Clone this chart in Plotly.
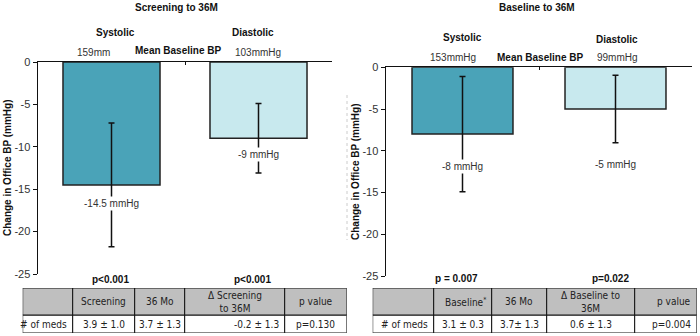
import plotly.graph_objects as go

W, H = 700, 336

# ---------------- data ----------------
categories = ["Systolic", "Diastolic"]
left_title = "Screening to 36M"
right_title = "Baseline to 36M"

left_change = [-14.5, -9.0]
left_err = [7.3, 4.1]
left_labels = ["-14.5 mmHg", "-9 mmHg"]
left_baseline = ["159mm", "103mmHg"]
left_pvals = ["p<0.001", "p<0.001"]

right_change = [-8.0, -5.0]
right_err = [6.9, 4.05]
right_labels = ["-8 mmHg", "-5 mmHg"]
right_baseline = ["153mmHg", "99mmHg"]
right_pvals = ["p = 0.007", "p=0.022"]

yticks = [0, -5, -10, -15, -20, -25]

left_tbl_header = ["", "Screening", "36 Mo", "Δ Screening<br>to 36M", "p value"]
left_tbl_row = ["# of meds", "3.9 ± 1.0", "3.7 ± 1.3", "-0.2 ± 1.3", "p=0.130"]
right_tbl_header = ["", "Baseline<sup>*</sup>", "36 Mo", "Δ Baseline to<br>36M", "p value"]
right_tbl_row = ["# of meds", "3.1 ± 0.3", "3.7± 1.3", "0.6 ± 1.3", "p=0.004"]

# ---------------- styles ----------------
FONT = "Liberation Sans, Arial, sans-serif"
NARROW = "Liberation Sans Narrow, Arial Narrow, DejaVu Sans Condensed, sans-serif"
C_SYS = "#4AA3B8"
C_DIA = "#C8E9EE"
TXT = "#333333"
DARK = "#111111"


def px(x):
    return x / W


def py(y):
    return 1 - y / H


fig = go.Figure()

for trace_y, trace_err, xa, ya in [(left_change, left_err, "x", "y"),
                                   (right_change, right_err, "x2", "y2")]:
    fig.add_trace(go.Bar(
        x=categories, y=trace_y, width=0.66,
        marker=dict(color=[C_SYS, C_DIA], line=dict(color="#222", width=1.5)),
        error_y=dict(type="data", array=trace_err, color=DARK, thickness=1.5, width=3),
        xaxis=xa, yaxis=ya, showlegend=False, hoverinfo="skip"))

xcommon = dict(type="category", side="top", showline=True, linecolor=DARK, linewidth=1.5,
               ticks="inside", ticklen=3, tickcolor=DARK, tickson="boundaries",
               showticklabels=False, showgrid=False, zeroline=False, range=[-0.5, 1.5],
               automargin=False, fixedrange=True)
ycommon = dict(range=[-25, 0], tickvals=yticks, ticktext=[str(v) for v in yticks],
               showline=True, linecolor=DARK, linewidth=1.5,
               ticks="outside", ticklen=4, tickcolor=DARK, showgrid=False, zeroline=False,
               tickfont=dict(family=FONT, size=11, color=TXT), automargin=False, fixedrange=True)
hidden = dict(visible=False, showgrid=False, zeroline=False, automargin=False, fixedrange=True)

# table geometry (layout constants)
ROW_H = [18, 27]          # data row, header row (px)
left_colw = [50, 62, 50, 100, 62]
right_colw = [61, 58, 55, 88, 62]

fig.update_layout(
    width=W, height=H, margin=dict(l=0, r=0, t=0, b=0, pad=0),
    paper_bgcolor="white", plot_bgcolor="white",
    font=dict(family=FONT, color=TXT),
    bargap=0,
    xaxis=dict(domain=[px(38), px(332)], anchor="y", **xcommon),
    yaxis=dict(domain=[py(274), py(62)], anchor="x", **ycommon),
    xaxis2=dict(domain=[px(386), px(692)], anchor="y2", **xcommon),
    yaxis2=dict(domain=[py(276), py(67.3)], anchor="x2", **ycommon),
    xaxis3=dict(domain=[px(22.7), px(346.7)], range=[0, sum(left_colw)], anchor="y3", **hidden),
    yaxis3=dict(domain=[py(333), py(288)], range=[0, sum(ROW_H)], anchor="x3", **hidden),
    xaxis4=dict(domain=[px(372.7), px(696.7)], range=[0, sum(right_colw)], anchor="y4", **hidden),
    yaxis4=dict(domain=[py(333), py(288)], range=[0, sum(ROW_H)], anchor="x4", **hidden),
)

ann = []
shapes = []


def add_text(x, y, text, size=10, bold=False, color=TXT, xref="paper", yref="paper",
             family=FONT, xanchor="center", yanchor="middle", **kw):
    t = f"<b>{text}</b>" if bold else text
    ann.append(dict(x=x, y=y, xref=xref, yref=yref, text=t, showarrow=False,
                    xanchor=xanchor, yanchor=yanchor,
                    font=dict(family=family, size=size, color=color), **kw))


# titles
add_text(px(177), py(7), left_title, bold=True, color=DARK)
add_text(px(537), py(7), right_title, bold=True, color=DARK)

# category headers and baseline values
left_cat_x, right_cat_x = [115, 253], [462, 617]
left_cat_y, right_cat_y = [32, 32], [37, 39]
for i, c in enumerate(categories):
    add_text(px(left_cat_x[i]), py(left_cat_y[i]), c, bold=True, color=DARK)
    add_text(px(right_cat_x[i]), py(right_cat_y[i]), c, bold=True, color=DARK)
    add_text(px([93, 258][i]), py(52), left_baseline[i])
    add_text(px([453, 617][i]), py(57), right_baseline[i])
add_text(px(178), py(50), "Mean Baseline BP", bold=True, color=DARK)
add_text(px(540), py(57), "Mean Baseline BP", bold=True, color=DARK)

# value labels (white box hides the error bar behind)
left_label_y = [-16.7, -10.85]
right_label_y = [-11.9, -11.7]
for i, c in enumerate(categories):
    add_text(c, left_label_y[i], left_labels[i], xref="x", yref="y", bgcolor="white", borderpad=1)
    add_text(c, right_label_y[i], right_labels[i], xref="x2", yref="y2", bgcolor="white", borderpad=1)

# p values
for i in range(2):
    add_text(px([110, 252][i]), py(279), left_pvals[i], bold=True, color=DARK)
    add_text(px([457, 610][i]), py(278), right_pvals[i], bold=True, color=DARK)

# y axis titles
add_text(px(7), py(168), "Change in Office BP (mmHg)", bold=True, color=DARK, textangle=-90)
add_text(px(355), py(172), "Change in Office BP (mmHg)", bold=True, color=DARK, textangle=-90)

# faint divider between panels
shapes.append(dict(type="line", xref="paper", yref="paper", x0=px(347), x1=px(347),
                   y0=py(95), y1=py(240), line=dict(color="#cccccc", width=1, dash="dot")))


def add_table(xa, ya, widths, header, row, halign, calign):
    edges = [0]
    for w in widths:
        edges.append(edges[-1] + w)
    y_edges = [0, ROW_H[0], ROW_H[0] + ROW_H[1]]
    pad = 4
    for r, (vals, aligns) in enumerate([(row, calign), (header, halign)]):
        y0, y1 = y_edges[r], y_edges[r + 1]
        fill = "white" if r == 0 else "#BFBFBF"
        for j, v in enumerate(vals):
            x0, x1 = edges[j], edges[j + 1]
            shapes.append(dict(type="rect", xref=xa, yref=ya, x0=x0, x1=x1, y0=y0, y1=y1,
                               fillcolor=fill, line=dict(color=DARK, width=1), layer="below"))
            if not v:
                continue
            a = aligns[j]
            if a == "center":
                xt = (x0 + x1) / 2
            elif a == "right":
                xt = x1 - pad
            else:
                xt = x0 + pad
            add_text(xt, (y0 + y1) / 2, v, size=10, color="#222", xref=xa, yref=ya,
                     family=NARROW, xanchor=a, align=a)


add_table("x3", "y3", left_colw, left_tbl_header, left_tbl_row,
          ["center"] * 5, ["right", "center", "center", "right", "center"])
add_table("x4", "y4", right_colw, right_tbl_header, right_tbl_row,
          ["right", "right", "center", "center", "right"],
          ["right", "center", "center", "center", "right"])

fig.update_layout(annotations=ann, shapes=shapes)

fig.write_html("out.html",
               config={"displayModeBar": False, "staticPlot": True},
               post_script="document.body.style.margin='0';document.body.style.padding='0';"
                           "document.body.style.overflow='hidden';")
